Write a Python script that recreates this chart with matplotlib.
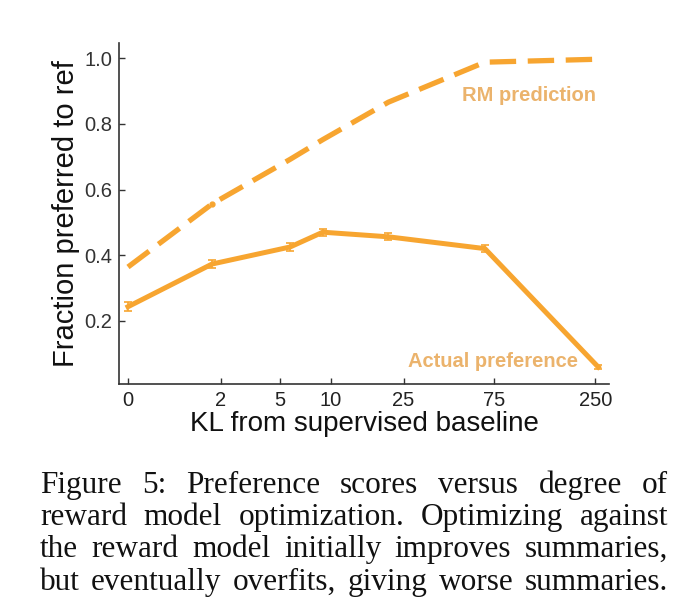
import numpy as np
import matplotlib
matplotlib.use("Agg")
import matplotlib.pyplot as plt

# data
kl = [0, 1.7, 5.8, 9, 20.7, 67, 259]
rm_pred = [0.364, 0.556, 0.692, 0.752, 0.866, 0.988, 0.997]
actual = [0.243, 0.373, 0.425, 0.470, 0.456, 0.420, 0.059]
actual_err = [0.013, 0.013, 0.012, 0.011, 0.011, 0.011, 0.006]
xticks = [0, 2, 5, 10, 25, 75, 250]
yticks = [0.2, 0.4, 0.6, 0.8, 1.0]

caption_lines = [
    "Figure 5:  Preference scores versus degree of",
    "reward model optimization. Optimizing against",
    "the reward model initially improves summaries,",
    "but eventually overfits, giving worse summaries.",
]

orange = "#F7A530"
label_orange = "#EBB36C"

plt.rcParams['font.family'] = ['Liberation Sans', 'DejaVu Sans']

fig = plt.figure(figsize=(6.8, 6.09), dpi=100)
ax = fig.add_axes([0.175, 0.3695, 0.721, 0.5595])

# x positions follow log(1 + KL)
ax.set_xscale('function', functions=(np.log1p, np.expm1))

ax.plot(kl, rm_pred, color=orange, lw=3.8, dashes=(5, 2.2), solid_capstyle='butt')
ax.plot(kl[1], rm_pred[1], 'o', color=orange, ms=3.5)
ax.errorbar(kl, actual, yerr=actual_err, color=orange, lw=3.6, elinewidth=1.2, capsize=3, capthick=1.2)

ax.text(113, 0.887, "RM prediction", color=label_orange, fontsize=14.5, fontweight='bold', ha='center', va='center')
ax.text(74, 0.075, "Actual preference", color=label_orange, fontsize=14.5, fontweight='bold', ha='center', va='center')

ax.set_xlim(-0.101, 295)
ax.set_ylim(0.0076, 1.0457)
ax.set_xticks(xticks)
ax.set_xticklabels([str(t) for t in xticks])
ax.set_yticks(yticks)
ax.set_yticklabels(["%.1f" % t for t in yticks])
ax.minorticks_off()
ax.tick_params(direction='in', length=4, width=1, colors='#333333', labelsize=14.5, pad=5)
ax.tick_params(axis='x', labelcolor='#222222')
ax.tick_params(axis='y', labelcolor='#333333')

for s in ['top', 'right']:
    ax.spines[s].set_visible(False)
for s in ['left', 'bottom']:
    ax.spines[s].set_color('#333333')
    ax.spines[s].set_linewidth(1.2)

ax.set_xlabel("KL from supervised baseline", fontsize=20, color='#111111', labelpad=1)
ax.set_ylabel("Fraction preferred to ref", fontsize=21, color='#111111', labelpad=3)

# justified caption
fig.canvas.draw()
r = fig.canvas.get_renderer()
W, H = 680, 609
x0, x1 = 40, 668
baselines = [493, 525, 557, 590]
cap_size = 22.5
for line, yb in zip(caption_lines, baselines):
    words = line.split()
    widths = []
    for w in words:
        t = fig.text(0, 0, w, family='Liberation Serif', fontsize=cap_size)
        widths.append(t.get_window_extent(r).width)
        t.remove()
    gap = (x1 - x0 - sum(widths)) / (len(words) - 1)
    x = x0
    for w, wd in zip(words, widths):
        fig.text(x / W, 1 - yb / H, w, family='Liberation Serif', fontsize=cap_size,
                 va='baseline', ha='left', color='#111111')
        x += wd + gap

fig.savefig("out.png", dpi=100)
